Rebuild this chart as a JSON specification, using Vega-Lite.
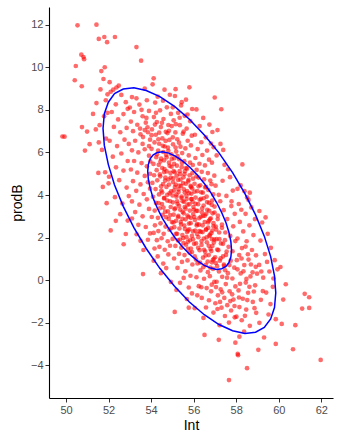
{
"$schema":"https://vega.github.io/schema/vega-lite/v6.json",
"autosize":{"type":"none"},
"padding":{"left":49,"top":7,"right":23,"bottom":40},
"width":284,"height":391,
"background":"white",
"config":{"view":{"stroke":null},
"axis":{"grid":false,"domainColor":"black","domainWidth":1.1,"tickColor":"#333333","tickSize":4,"tickWidth":1,"labelColor":"#4d4d4d","labelFont":"Liberation Sans","labelFontSize":11,"labelPadding":2,"titleFont":"Liberation Sans","titleFontSize":14,"titleFontWeight":"normal","titleColor":"black"}},
"datasets":{
"pts":[
{"Int":49.83,"prodB":6.75},{"Int":49.93,"prodB":6.74},{"Int":50.41,"prodB":9.39},{"Int":50.46,"prodB":10.06},{"Int":50.54,"prodB":11.97},{"Int":50.72,"prodB":10.59},{"Int":50.82,"prodB":10.48},{"Int":50.85,"prodB":10.38},{"Int":50.74,"prodB":9.11},{"Int":50.75,"prodB":7.19},{"Int":50.99,"prodB":6.98},{"Int":50.89,"prodB":6.09},
{"Int":51.43,"prodB":12.0},{"Int":51.54,"prodB":11.33},{"Int":51.8,"prodB":11.42},{"Int":51.93,"prodB":11.18},{"Int":51.82,"prodB":10.0},{"Int":51.66,"prodB":9.82},{"Int":51.76,"prodB":9.45},{"Int":51.95,"prodB":8.73},{"Int":51.43,"prodB":8.32},{"Int":51.87,"prodB":8.45},{"Int":51.95,"prodB":7.86},{"Int":51.79,"prodB":7.7},{"Int":51.58,"prodB":7.28},{"Int":51.4,"prodB":7.08},{"Int":51.11,"prodB":6.39},{"Int":51.54,"prodB":6.47},{"Int":51.52,"prodB":5.04},{"Int":51.84,"prodB":5.07},{"Int":51.69,"prodB":6.12},{"Int":51.88,"prodB":6.65},{"Int":51.27,"prodB":7.81},{"Int":51.73,"prodB":4.38},{"Int":51.91,"prodB":3.62},{"Int":51.62,"prodB":8.96},
{"Int":52.3,"prodB":11.42},{"Int":52.05,"prodB":9.3},{"Int":52.37,"prodB":9.05},{"Int":52.48,"prodB":9.14},{"Int":52.1,"prodB":8.85},{"Int":52.22,"prodB":8.95},{"Int":52.34,"prodB":8.26},{"Int":52.81,"prodB":8.36},{"Int":52.6,"prodB":8.7},{"Int":52.9,"prodB":8.05},{"Int":52.15,"prodB":7.9},{"Int":52.45,"prodB":7.55},{"Int":52.7,"prodB":7.8},{"Int":52.25,"prodB":7.2},{"Int":52.55,"prodB":6.95},{"Int":52.85,"prodB":7.15},{"Int":52.05,"prodB":6.55},{"Int":52.4,"prodB":6.3},{"Int":52.75,"prodB":6.6},{"Int":52.95,"prodB":6.4},{"Int":52.2,"prodB":5.8},{"Int":52.6,"prodB":5.95},{"Int":52.9,"prodB":5.6},{"Int":52.35,"prodB":5.3},{"Int":52.7,"prodB":5.15},{"Int":52.02,"prodB":4.86},{"Int":52.0,"prodB":4.55},{"Int":52.5,"prodB":4.7},{"Int":52.85,"prodB":4.35},{"Int":52.3,"prodB":3.9},{"Int":52.65,"prodB":3.6},{"Int":52.95,"prodB":3.95},{"Int":52.34,"prodB":2.79},{"Int":52.1,"prodB":2.34},{"Int":52.81,"prodB":2.17},{"Int":52.71,"prodB":1.69},{"Int":52.55,"prodB":3.1},{"Int":52.9,"prodB":2.8},
{"Int":53.31,"prodB":10.95},{"Int":53.53,"prodB":10.31},{"Int":53.7,"prodB":9.0},{"Int":53.31,"prodB":8.54},{"Int":53.0,"prodB":8.11},{"Int":53.1,"prodB":8.6},{"Int":53.45,"prodB":8.25},{"Int":53.8,"prodB":8.45},{"Int":53.2,"prodB":7.9},{"Int":53.6,"prodB":7.7},{"Int":53.9,"prodB":7.95},{"Int":53.05,"prodB":7.45},{"Int":53.35,"prodB":7.3},{"Int":53.75,"prodB":7.4},{"Int":53.15,"prodB":7.0},{"Int":53.5,"prodB":6.85},{"Int":53.85,"prodB":6.95},{"Int":53.25,"prodB":6.55},{"Int":53.6,"prodB":6.4},{"Int":53.95,"prodB":6.6},{"Int":53.1,"prodB":6.1},{"Int":53.4,"prodB":6.0},{"Int":53.7,"prodB":6.15},{"Int":53.9,"prodB":5.85},{"Int":53.2,"prodB":5.6},{"Int":53.55,"prodB":5.5},{"Int":53.8,"prodB":5.35},{"Int":53.05,"prodB":5.2},{"Int":53.35,"prodB":5.05},{"Int":53.7,"prodB":4.9},{"Int":53.95,"prodB":5.0},{"Int":53.15,"prodB":4.65},{"Int":53.5,"prodB":4.5},{"Int":53.85,"prodB":4.6},{"Int":53.3,"prodB":4.2},{"Int":53.65,"prodB":4.05},{"Int":53.95,"prodB":4.3},{"Int":53.1,"prodB":3.7},{"Int":53.45,"prodB":3.55},{"Int":53.8,"prodB":3.8},{"Int":53.25,"prodB":3.2},{"Int":53.6,"prodB":3.0},{"Int":53.9,"prodB":3.35},{"Int":53.4,"prodB":2.6},{"Int":53.75,"prodB":2.5},{"Int":53.32,"prodB":2.16},{"Int":53.64,"prodB":1.42},{"Int":53.62,"prodB":0.29},{"Int":53.85,"prodB":1.9},{"Int":53.95,"prodB":2.2},{"Int":53.5,"prodB":1.85},{"Int":53.1,"prodB":2.9},{"Int":53.7,"prodB":7.05},{"Int":53.55,"prodB":8.0},{"Int":53.9,"prodB":6.3},
{"Int":54.07,"prodB":9.2},{"Int":54.12,"prodB":9.48},{"Int":54.63,"prodB":8.95},{"Int":54.31,"prodB":8.62},{"Int":54.88,"prodB":8.71},{"Int":54.19,"prodB":8.34},{"Int":54.74,"prodB":8.12},{"Int":54.42,"prodB":7.98},{"Int":54.93,"prodB":7.81},{"Int":54.13,"prodB":7.66},{"Int":54.58,"prodB":7.57},{"Int":54.27,"prodB":7.43},{"Int":54.81,"prodB":7.29},{"Int":54.04,"prodB":7.08},{"Int":54.46,"prodB":7.19},{"Int":54.69,"prodB":6.97},{"Int":54.97,"prodB":7.24},{"Int":54.22,"prodB":6.83},{"Int":54.53,"prodB":6.66},{"Int":54.77,"prodB":6.91},{"Int":54.16,"prodB":6.47},{"Int":54.38,"prodB":6.41},{"Int":54.64,"prodB":6.28},{"Int":54.86,"prodB":6.59},{"Int":54.02,"prodB":6.17},{"Int":54.33,"prodB":6.09},{"Int":54.57,"prodB":6.02},{"Int":54.79,"prodB":6.23},{"Int":54.95,"prodB":5.91},{"Int":54.24,"prodB":5.78},{"Int":54.47,"prodB":5.71},{"Int":54.71,"prodB":5.88},{"Int":54.11,"prodB":5.46},{"Int":54.36,"prodB":5.42},{"Int":54.61,"prodB":5.63},{"Int":54.84,"prodB":5.52},{"Int":54.26,"prodB":5.17},{"Int":54.52,"prodB":5.27},{"Int":54.73,"prodB":5.11},{"Int":54.96,"prodB":5.33},{"Int":54.14,"prodB":4.93},{"Int":54.43,"prodB":4.88},{"Int":54.67,"prodB":4.82},{"Int":54.91,"prodB":5.04},{"Int":54.06,"prodB":4.57},{"Int":54.29,"prodB":4.69},{"Int":54.56,"prodB":4.52},{"Int":54.82,"prodB":4.73},{"Int":54.21,"prodB":4.28},{"Int":54.48,"prodB":4.21},{"Int":54.72,"prodB":4.38},{"Int":54.94,"prodB":4.17},{"Int":54.09,"prodB":3.92},{"Int":54.37,"prodB":4.03},{"Int":54.62,"prodB":3.87},{"Int":54.87,"prodB":4.08},{"Int":54.23,"prodB":3.63},{"Int":54.51,"prodB":3.58},{"Int":54.76,"prodB":3.74},{"Int":54.17,"prodB":3.27},{"Int":54.41,"prodB":3.38},{"Int":54.66,"prodB":3.22},{"Int":54.92,"prodB":3.44},{"Int":54.03,"prodB":2.97},{"Int":54.32,"prodB":2.93},{"Int":54.54,"prodB":3.07},{"Int":54.83,"prodB":2.88},{"Int":54.18,"prodB":2.58},{"Int":54.44,"prodB":2.67},{"Int":54.68,"prodB":2.52},{"Int":54.98,"prodB":2.73},{"Int":54.12,"prodB":2.22},{"Int":54.34,"prodB":2.31},{"Int":54.59,"prodB":2.18},{"Int":54.86,"prodB":2.37},{"Int":54.27,"prodB":1.88},{"Int":54.49,"prodB":1.97},{"Int":54.78,"prodB":1.83},{"Int":54.16,"prodB":1.49},{"Int":54.39,"prodB":1.57},{"Int":54.64,"prodB":1.43},{"Int":54.89,"prodB":1.62},{"Int":54.12,"prodB":0.92},{"Int":54.31,"prodB":1.12},{"Int":54.57,"prodB":0.78},{"Int":54.81,"prodB":1.21},{"Int":54.46,"prodB":0.33},{"Int":54.71,"prodB":0.57},{"Int":54.93,"prodB":-0.08},{"Int":54.61,"prodB":5.08},{"Int":54.38,"prodB":6.93},
{"Int":55.8,"prodB":9.06},{"Int":55.64,"prodB":8.48},{"Int":55.12,"prodB":8.65},{"Int":55.41,"prodB":8.21},{"Int":55.93,"prodB":8.04},{"Int":55.27,"prodB":7.86},{"Int":55.58,"prodB":7.72},{"Int":55.06,"prodB":7.51},{"Int":55.84,"prodB":7.47},{"Int":55.35,"prodB":7.28},{"Int":55.67,"prodB":7.12},{"Int":55.14,"prodB":6.94},{"Int":55.49,"prodB":6.88},{"Int":55.91,"prodB":6.79},{"Int":55.23,"prodB":6.62},{"Int":55.72,"prodB":6.55},{"Int":55.03,"prodB":6.38},{"Int":55.38,"prodB":6.27},{"Int":55.61,"prodB":6.19},{"Int":55.87,"prodB":6.33},{"Int":55.18,"prodB":6.04},{"Int":55.46,"prodB":5.97},{"Int":55.77,"prodB":5.86},{"Int":55.09,"prodB":5.73},{"Int":55.32,"prodB":5.68},{"Int":55.56,"prodB":5.59},{"Int":55.83,"prodB":5.52},{"Int":55.21,"prodB":5.38},{"Int":55.44,"prodB":5.31},{"Int":55.69,"prodB":5.24},{"Int":55.96,"prodB":5.41},{"Int":55.11,"prodB":5.07},{"Int":55.36,"prodB":4.98},{"Int":55.59,"prodB":5.12},{"Int":55.81,"prodB":4.93},{"Int":55.04,"prodB":4.79},{"Int":55.27,"prodB":4.71},{"Int":55.52,"prodB":4.83},{"Int":55.74,"prodB":4.64},{"Int":55.97,"prodB":4.77},{"Int":55.16,"prodB":4.49},{"Int":55.41,"prodB":4.42},{"Int":55.63,"prodB":4.53},{"Int":55.88,"prodB":4.38},{"Int":55.07,"prodB":4.21},{"Int":55.29,"prodB":4.14},{"Int":55.54,"prodB":4.27},{"Int":55.78,"prodB":4.09},{"Int":55.93,"prodB":4.31},{"Int":55.19,"prodB":3.92},{"Int":55.43,"prodB":3.86},{"Int":55.66,"prodB":3.97},{"Int":55.89,"prodB":3.81},{"Int":55.02,"prodB":3.66},{"Int":55.24,"prodB":3.59},{"Int":55.48,"prodB":3.71},{"Int":55.71,"prodB":3.55},{"Int":55.95,"prodB":3.68},{"Int":55.13,"prodB":3.38},{"Int":55.37,"prodB":3.31},{"Int":55.58,"prodB":3.44},{"Int":55.82,"prodB":3.27},{"Int":55.06,"prodB":3.08},{"Int":55.28,"prodB":3.02},{"Int":55.53,"prodB":3.14},{"Int":55.76,"prodB":2.97},{"Int":55.98,"prodB":3.11},{"Int":55.17,"prodB":2.79},{"Int":55.39,"prodB":2.73},{"Int":55.62,"prodB":2.86},{"Int":55.86,"prodB":2.68},{"Int":55.09,"prodB":2.49},{"Int":55.33,"prodB":2.43},{"Int":55.56,"prodB":2.57},{"Int":55.79,"prodB":2.39},{"Int":55.22,"prodB":2.18},{"Int":55.47,"prodB":2.12},{"Int":55.69,"prodB":2.26},{"Int":55.92,"prodB":2.08},{"Int":55.01,"prodB":1.94},{"Int":55.26,"prodB":1.87},{"Int":55.51,"prodB":1.98},{"Int":55.73,"prodB":1.81},{"Int":55.97,"prodB":1.92},{"Int":55.14,"prodB":1.61},{"Int":55.42,"prodB":1.53},{"Int":55.64,"prodB":1.67},{"Int":55.87,"prodB":1.49},{"Int":55.31,"prodB":1.24},{"Int":55.57,"prodB":1.18},{"Int":55.81,"prodB":1.29},{"Int":55.08,"prodB":1.02},{"Int":55.45,"prodB":0.86},{"Int":55.71,"prodB":0.93},{"Int":55.94,"prodB":0.74},{"Int":55.24,"prodB":0.58},{"Int":55.61,"prodB":0.42},{"Int":55.85,"prodB":0.21},{"Int":55.19,"prodB":-0.46},{"Int":55.36,"prodB":-0.12},{"Int":55.77,"prodB":-0.34},{"Int":55.53,"prodB":0.11},{"Int":55.11,"prodB":-1.49},{"Int":55.77,"prodB":-1.29},{"Int":55.68,"prodB":-0.88},{"Int":55.92,"prodB":-0.62},{"Int":55.34,"prodB":7.63},{"Int":55.15,"prodB":8.97},
{"Int":56.99,"prodB":8.58},{"Int":56.13,"prodB":8.02},{"Int":56.74,"prodB":7.31},{"Int":56.45,"prodB":7.62},{"Int":56.28,"prodB":7.24},{"Int":56.88,"prodB":6.96},{"Int":56.06,"prodB":6.83},{"Int":56.57,"prodB":6.71},{"Int":56.36,"prodB":6.48},{"Int":56.81,"prodB":6.42},{"Int":56.19,"prodB":6.16},{"Int":56.63,"prodB":6.09},{"Int":56.94,"prodB":6.25},{"Int":56.41,"prodB":5.88},{"Int":56.08,"prodB":5.74},{"Int":56.72,"prodB":5.66},{"Int":56.27,"prodB":5.47},{"Int":56.53,"prodB":5.39},{"Int":56.86,"prodB":5.52},{"Int":56.14,"prodB":5.18},{"Int":56.38,"prodB":5.09},{"Int":56.67,"prodB":5.03},{"Int":56.97,"prodB":4.91},{"Int":56.23,"prodB":4.82},{"Int":56.49,"prodB":4.74},{"Int":56.78,"prodB":4.68},{"Int":56.04,"prodB":4.53},{"Int":56.31,"prodB":4.46},{"Int":56.58,"prodB":4.39},{"Int":56.84,"prodB":4.51},{"Int":56.17,"prodB":4.18},{"Int":56.43,"prodB":4.11},{"Int":56.69,"prodB":4.24},{"Int":56.92,"prodB":4.03},{"Int":56.09,"prodB":3.88},{"Int":56.34,"prodB":3.82},{"Int":56.61,"prodB":3.93},{"Int":56.87,"prodB":3.74},{"Int":56.21,"prodB":3.57},{"Int":56.47,"prodB":3.51},{"Int":56.73,"prodB":3.63},{"Int":56.98,"prodB":3.46},{"Int":56.12,"prodB":3.26},{"Int":56.39,"prodB":3.19},{"Int":56.64,"prodB":3.31},{"Int":56.89,"prodB":3.14},{"Int":56.03,"prodB":2.97},{"Int":56.26,"prodB":2.91},{"Int":56.52,"prodB":3.03},{"Int":56.77,"prodB":2.86},{"Int":56.16,"prodB":2.64},{"Int":56.42,"prodB":2.58},{"Int":56.68,"prodB":2.71},{"Int":56.93,"prodB":2.53},{"Int":56.07,"prodB":2.33},{"Int":56.33,"prodB":2.27},{"Int":56.59,"prodB":2.39},{"Int":56.83,"prodB":2.21},{"Int":56.22,"prodB":2.02},{"Int":56.48,"prodB":1.96},{"Int":56.74,"prodB":2.08},{"Int":56.97,"prodB":1.91},{"Int":56.11,"prodB":1.73},{"Int":56.37,"prodB":1.66},{"Int":56.62,"prodB":1.78},{"Int":56.88,"prodB":1.61},{"Int":56.28,"prodB":1.41},{"Int":56.54,"prodB":1.34},{"Int":56.79,"prodB":1.47},{"Int":56.05,"prodB":1.12},{"Int":56.44,"prodB":1.06},{"Int":56.71,"prodB":1.18},{"Int":56.95,"prodB":1.01},{"Int":56.18,"prodB":0.79},{"Int":56.57,"prodB":0.72},{"Int":56.86,"prodB":0.84},{"Int":56.32,"prodB":0.46},{"Int":56.67,"prodB":0.38},{"Int":56.91,"prodB":0.53},{"Int":56.13,"prodB":0.14},{"Int":56.49,"prodB":0.07},{"Int":56.76,"prodB":0.19},{"Int":56.24,"prodB":-0.28},{"Int":56.61,"prodB":-0.37},{"Int":56.85,"prodB":-0.21},{"Int":56.05,"prodB":-1.31},{"Int":56.46,"prodB":-1.77},{"Int":56.38,"prodB":-0.83},{"Int":56.72,"prodB":-0.94},{"Int":56.51,"prodB":-2.57},{"Int":56.93,"prodB":-1.52},{"Int":56.17,"prodB":-0.71},{"Int":56.58,"prodB":-1.28},
{"Int":57.3,"prodB":8.03},{"Int":57.26,"prodB":6.4},{"Int":57.12,"prodB":7.05},{"Int":57.71,"prodB":4.84},{"Int":57.18,"prodB":4.01},{"Int":57.45,"prodB":5.42},{"Int":57.08,"prodB":5.86},{"Int":57.62,"prodB":5.21},{"Int":57.36,"prodB":4.67},{"Int":57.84,"prodB":4.21},{"Int":57.03,"prodB":4.44},{"Int":57.54,"prodB":3.96},{"Int":57.25,"prodB":3.71},{"Int":57.77,"prodB":3.48},{"Int":57.41,"prodB":3.29},{"Int":57.93,"prodB":3.12},{"Int":57.14,"prodB":3.04},{"Int":57.58,"prodB":2.87},{"Int":57.33,"prodB":2.61},{"Int":57.86,"prodB":2.53},{"Int":57.06,"prodB":2.38},{"Int":57.49,"prodB":2.24},{"Int":57.72,"prodB":2.08},{"Int":57.21,"prodB":1.93},{"Int":57.96,"prodB":1.84},{"Int":57.38,"prodB":1.71},{"Int":57.64,"prodB":1.57},{"Int":57.11,"prodB":1.44},{"Int":57.83,"prodB":1.36},{"Int":57.52,"prodB":1.19},{"Int":57.27,"prodB":1.03},{"Int":57.74,"prodB":0.92},{"Int":57.04,"prodB":0.81},{"Int":57.43,"prodB":0.68},{"Int":57.91,"prodB":0.59},{"Int":57.19,"prodB":0.41},{"Int":57.61,"prodB":0.33},{"Int":57.34,"prodB":0.16},{"Int":57.82,"prodB":0.08},{"Int":57.08,"prodB":-0.07},{"Int":57.51,"prodB":-0.18},{"Int":57.96,"prodB":-0.29},{"Int":57.27,"prodB":-0.43},{"Int":57.69,"prodB":-0.52},{"Int":57.14,"prodB":-0.71},{"Int":57.44,"prodB":-0.83},{"Int":57.87,"prodB":-0.91},{"Int":57.02,"prodB":-1.08},{"Int":57.58,"prodB":-1.17},{"Int":57.31,"prodB":-1.29},{"Int":57.12,"prodB":-1.35},{"Int":57.76,"prodB":-1.42},{"Int":57.66,"prodB":-1.99},{"Int":57.47,"prodB":-1.68},{"Int":57.93,"prodB":-1.74},{"Int":57.22,"prodB":-2.11},{"Int":57.18,"prodB":-2.8},{"Int":57.96,"prodB":-2.93},{"Int":57.66,"prodB":-4.69},{"Int":57.39,"prodB":6.12},{"Int":57.78,"prodB":3.7},
{"Int":58.29,"prodB":5.44},{"Int":58.06,"prodB":4.29},{"Int":58.21,"prodB":4.45},{"Int":58.39,"prodB":4.18},{"Int":58.64,"prodB":4.11},{"Int":58.51,"prodB":3.89},{"Int":58.58,"prodB":3.77},{"Int":58.12,"prodB":3.58},{"Int":58.24,"prodB":3.31},{"Int":58.71,"prodB":3.42},{"Int":58.44,"prodB":3.12},{"Int":58.88,"prodB":2.87},{"Int":58.17,"prodB":2.74},{"Int":58.62,"prodB":2.58},{"Int":58.33,"prodB":2.29},{"Int":58.81,"prodB":2.12},{"Int":58.06,"prodB":1.96},{"Int":58.49,"prodB":1.83},{"Int":58.27,"prodB":1.51},{"Int":58.74,"prodB":1.42},{"Int":58.14,"prodB":1.18},{"Int":58.58,"prodB":0.97},{"Int":58.38,"prodB":0.71},{"Int":58.92,"prodB":0.63},{"Int":58.06,"prodB":0.51},{"Int":58.21,"prodB":0.32},{"Int":58.67,"prodB":0.18},{"Int":58.45,"prodB":-0.11},{"Int":58.89,"prodB":-0.24},{"Int":58.11,"prodB":-0.48},{"Int":58.56,"prodB":-0.59},{"Int":58.31,"prodB":-0.87},{"Int":58.78,"prodB":-1.02},{"Int":58.15,"prodB":-1.26},{"Int":58.47,"prodB":-1.38},{"Int":58.94,"prodB":-1.53},{"Int":58.64,"prodB":-2.14},{"Int":58.26,"prodB":-1.88},{"Int":58.15,"prodB":-2.65},{"Int":58.51,"prodB":-4.13},{"Int":58.07,"prodB":-3.46},{"Int":58.09,"prodB":-3.52},{"Int":58.37,"prodB":-2.41},{"Int":58.83,"prodB":-0.53},{"Int":58.55,"prodB":1.22},{"Int":58.98,"prodB":0.31},
{"Int":59.09,"prodB":3.25},{"Int":59.22,"prodB":2.71},{"Int":59.48,"prodB":2.18},{"Int":59.14,"prodB":1.86},{"Int":59.63,"prodB":1.52},{"Int":59.35,"prodB":1.23},{"Int":59.81,"prodB":0.94},{"Int":59.08,"prodB":0.72},{"Int":59.56,"prodB":0.41},{"Int":59.94,"prodB":0.51},{"Int":59.27,"prodB":0.12},{"Int":59.72,"prodB":-0.31},{"Int":59.41,"prodB":-0.58},{"Int":59.16,"prodB":-0.92},{"Int":59.61,"prodB":-1.12},{"Int":59.86,"prodB":-1.83},{"Int":59.09,"prodB":-2.0},{"Int":59.31,"prodB":-2.69},{"Int":59.04,"prodB":-3.27},{"Int":59.86,"prodB":-2.99},{"Int":59.52,"prodB":-1.61},{"Int":59.38,"prodB":2.95},{"Int":59.75,"prodB":0.08},
{"Int":60.33,"prodB":-0.19},{"Int":61.22,"prodB":-0.64},{"Int":61.43,"prodB":-0.8},{"Int":61.1,"prodB":-1.33},{"Int":61.43,"prodB":-1.3},{"Int":60.78,"prodB":-2.11},{"Int":60.14,"prodB":-2.05},{"Int":61.97,"prodB":-3.74},{"Int":60.67,"prodB":-3.24},{"Int":60.08,"prodB":0.62},{"Int":60.21,"prodB":-0.91},
{"Int":54.28,"prodB":5.91},{"Int":54.35,"prodB":3.62},{"Int":54.41,"prodB":4.97},{"Int":54.44,"prodB":5.58},{"Int":54.52,"prodB":4.12},{"Int":54.55,"prodB":6.31},{"Int":54.58,"prodB":3.41},{"Int":54.63,"prodB":5.22},{"Int":54.66,"prodB":4.68},{"Int":54.7,"prodB":2.96},{"Int":54.73,"prodB":5.77},{"Int":54.76,"prodB":4.01},{"Int":54.79,"prodB":3.23},{"Int":54.81,"prodB":6.08},{"Int":54.84,"prodB":4.49},{"Int":54.87,"prodB":5.37},{"Int":54.9,"prodB":3.06},{"Int":54.92,"prodB":4.82},{"Int":54.95,"prodB":2.44},{"Int":54.97,"prodB":5.69},{"Int":55.01,"prodB":3.98},{"Int":55.03,"prodB":4.61},{"Int":55.05,"prodB":2.71},{"Int":55.08,"prodB":5.46},{"Int":55.1,"prodB":3.33},{"Int":55.12,"prodB":4.38},{"Int":55.15,"prodB":6.23},{"Int":55.17,"prodB":2.18},{"Int":55.2,"prodB":4.91},{"Int":55.22,"prodB":3.71},{"Int":55.24,"prodB":5.83},{"Int":55.27,"prodB":2.96},{"Int":55.29,"prodB":4.27},{"Int":55.31,"prodB":3.49},{"Int":55.34,"prodB":5.12},{"Int":55.36,"prodB":1.91},{"Int":55.38,"prodB":4.73},{"Int":55.41,"prodB":2.62},{"Int":55.43,"prodB":3.93},{"Int":55.45,"prodB":5.51},{"Int":55.48,"prodB":3.21},{"Int":55.5,"prodB":4.56},{"Int":55.52,"prodB":1.74},{"Int":55.55,"prodB":3.68},{"Int":55.57,"prodB":4.98},{"Int":55.59,"prodB":2.41},{"Int":55.62,"prodB":3.36},{"Int":55.64,"prodB":5.27},{"Int":55.66,"prodB":2.02},{"Int":55.69,"prodB":4.19},{"Int":55.71,"prodB":3.04},{"Int":55.73,"prodB":1.47},{"Int":55.76,"prodB":4.71},{"Int":55.78,"prodB":2.66},{"Int":55.8,"prodB":3.57},{"Int":55.83,"prodB":1.88},{"Int":55.85,"prodB":4.43},{"Int":55.87,"prodB":2.93},{"Int":55.9,"prodB":3.81},{"Int":55.92,"prodB":1.32},{"Int":55.94,"prodB":5.03},{"Int":55.97,"prodB":2.29},{"Int":55.99,"prodB":3.44},{"Int":56.02,"prodB":1.71},{"Int":56.04,"prodB":4.16},{"Int":56.06,"prodB":2.83},{"Int":56.09,"prodB":3.59},{"Int":56.11,"prodB":0.97},{"Int":56.13,"prodB":4.88},{"Int":56.16,"prodB":2.17},{"Int":56.18,"prodB":3.26},{"Int":56.21,"prodB":1.52},{"Int":56.23,"prodB":4.41},{"Int":56.25,"prodB":2.61},{"Int":56.28,"prodB":3.78},{"Int":56.3,"prodB":0.83},{"Int":56.33,"prodB":2.98},{"Int":56.35,"prodB":4.13},{"Int":56.37,"prodB":1.84},{"Int":56.4,"prodB":3.37},{"Int":56.42,"prodB":2.26},{"Int":56.45,"prodB":0.61},{"Int":56.47,"prodB":3.85},{"Int":56.49,"prodB":1.43},{"Int":56.52,"prodB":2.73},{"Int":56.54,"prodB":4.36},{"Int":56.56,"prodB":1.16},{"Int":56.59,"prodB":3.12},{"Int":56.61,"prodB":2.01},{"Int":56.63,"prodB":3.67},{"Int":56.66,"prodB":0.88},{"Int":56.68,"prodB":2.47},{"Int":56.71,"prodB":1.62},{"Int":56.73,"prodB":3.26},{"Int":56.76,"prodB":2.14},{"Int":56.78,"prodB":0.59},{"Int":56.8,"prodB":2.91},{"Int":56.83,"prodB":1.37},{"Int":56.85,"prodB":3.54},{"Int":56.88,"prodB":2.33},{"Int":56.9,"prodB":0.94},{"Int":56.93,"prodB":2.68},{"Int":56.95,"prodB":1.77},{"Int":56.98,"prodB":3.18},{"Int":57.01,"prodB":1.08},{"Int":57.04,"prodB":2.52},{"Int":57.07,"prodB":1.93},{"Int":57.1,"prodB":0.66},{"Int":57.13,"prodB":2.87},{"Int":57.16,"prodB":1.41},{"Int":57.2,"prodB":2.24},{"Int":57.23,"prodB":0.92},{"Int":57.28,"prodB":1.73},{"Int":57.33,"prodB":2.46},{"Int":57.38,"prodB":1.12},{"Int":57.42,"prodB":0.73},{"Int":57.47,"prodB":1.88},{"Int":57.55,"prodB":1.35},{"Int":54.47,"prodB":4.41},{"Int":54.61,"prodB":3.84},{"Int":54.89,"prodB":3.71},{"Int":55.06,"prodB":5.12},{"Int":55.19,"prodB":4.02},{"Int":55.33,"prodB":4.44},{"Int":55.47,"prodB":2.88},{"Int":55.58,"prodB":4.12},{"Int":55.67,"prodB":3.81},{"Int":55.74,"prodB":2.33},{"Int":55.89,"prodB":4.06},{"Int":56.01,"prodB":3.31},{"Int":56.14,"prodB":2.57},{"Int":56.27,"prodB":2.31},{"Int":56.44,"prodB":3.02},{"Int":56.58,"prodB":2.37},{"Int":56.71,"prodB":2.79},{"Int":56.86,"prodB":1.93},
{"Int":57.57,"prodB":0.12},{"Int":57.81,"prodB":-0.66},{"Int":58.03,"prodB":0.94},{"Int":58.18,"prodB":-0.17},{"Int":58.34,"prodB":0.42},{"Int":58.52,"prodB":-0.93},{"Int":58.69,"prodB":0.74},{"Int":58.86,"prodB":-1.31},{"Int":58.41,"prodB":-1.67},{"Int":57.92,"prodB":-1.21},{"Int":58.13,"prodB":-0.81},{"Int":58.62,"prodB":-0.31},{"Int":58.77,"prodB":0.37},{"Int":57.68,"prodB":0.71},{"Int":57.34,"prodB":-0.57},{"Int":57.05,"prodB":-0.32},{"Int":58.25,"prodB":1.02},{"Int":58.44,"prodB":1.58},{"Int":58.93,"prodB":1.17},{"Int":59.18,"prodB":0.41},{"Int":59.25,"prodB":-0.51},{"Int":59.45,"prodB":0.86},{"Int":57.72,"prodB":-0.98},{"Int":57.48,"prodB":0.47},{"Int":58.01,"prodB":-1.71},{"Int":58.48,"prodB":0.06},{"Int":57.24,"prodB":-1.02},{"Int":56.82,"prodB":-0.52},{"Int":56.97,"prodB":-0.08},{"Int":56.36,"prodB":-0.33},
{"Int":53.62,"prodB":6.72},{"Int":53.83,"prodB":7.18},{"Int":54.02,"prodB":6.81},{"Int":54.18,"prodB":7.31},{"Int":54.34,"prodB":6.62},{"Int":54.51,"prodB":7.39},{"Int":54.68,"prodB":6.54},{"Int":54.84,"prodB":7.02},{"Int":55.02,"prodB":6.71},{"Int":55.16,"prodB":7.33},{"Int":55.31,"prodB":6.46},{"Int":55.53,"prodB":6.98},{"Int":55.71,"prodB":7.78},{"Int":55.44,"prodB":8.36},{"Int":55.02,"prodB":8.12},{"Int":54.56,"prodB":8.43},{"Int":54.23,"prodB":7.86},{"Int":53.78,"prodB":7.62},{"Int":53.48,"prodB":7.12},{"Int":53.96,"prodB":5.58}
],
"ell":[
{"level":"outer","i":0,"Int":59.86,"prodB":-0.59},{"level":"outer","i":1,"Int":59.8,"prodB":-1.28},{"level":"outer","i":2,"Int":59.62,"prodB":-1.82},{"level":"outer","i":3,"Int":59.32,"prodB":-2.22},{"level":"outer","i":4,"Int":58.91,"prodB":-2.44},{"level":"outer","i":5,"Int":58.41,"prodB":-2.5},{"level":"outer","i":6,"Int":57.83,"prodB":-2.37},{"level":"outer","i":7,"Int":57.19,"prodB":-2.08},{"level":"outer","i":8,"Int":56.5,"prodB":-1.62},{"level":"outer","i":9,"Int":55.8,"prodB":-1.02},{"level":"outer","i":10,"Int":55.1,"prodB":-0.28},{"level":"outer","i":11,"Int":54.41,"prodB":0.56},{"level":"outer","i":12,"Int":53.77,"prodB":1.49},{"level":"outer","i":13,"Int":53.19,"prodB":2.47},{"level":"outer","i":14,"Int":52.69,"prodB":3.47},{"level":"outer","i":15,"Int":52.28,"prodB":4.47},{"level":"outer","i":16,"Int":51.99,"prodB":5.43},{"level":"outer","i":17,"Int":51.8,"prodB":6.33},{"level":"outer","i":18,"Int":51.74,"prodB":7.13},{"level":"outer","i":19,"Int":51.8,"prodB":7.82},{"level":"outer","i":20,"Int":51.99,"prodB":8.36},{"level":"outer","i":21,"Int":52.28,"prodB":8.76},{"level":"outer","i":22,"Int":52.69,"prodB":8.98},{"level":"outer","i":23,"Int":53.19,"prodB":9.04},{"level":"outer","i":24,"Int":53.77,"prodB":8.91},{"level":"outer","i":25,"Int":54.41,"prodB":8.62},{"level":"outer","i":26,"Int":55.1,"prodB":8.16},{"level":"outer","i":27,"Int":55.8,"prodB":7.56},{"level":"outer","i":28,"Int":56.5,"prodB":6.82},{"level":"outer","i":29,"Int":57.19,"prodB":5.98},{"level":"outer","i":30,"Int":57.83,"prodB":5.05},{"level":"outer","i":31,"Int":58.41,"prodB":4.07},{"level":"outer","i":32,"Int":58.91,"prodB":3.07},{"level":"outer","i":33,"Int":59.32,"prodB":2.07},{"level":"outer","i":34,"Int":59.62,"prodB":1.11},{"level":"outer","i":35,"Int":59.8,"prodB":0.21},{"level":"outer","i":36,"Int":59.86,"prodB":-0.59},
{"level":"inner","i":0,"Int":57.78,"prodB":1.42},{"level":"inner","i":1,"Int":57.75,"prodB":1.1},{"level":"inner","i":2,"Int":57.66,"prodB":0.83},{"level":"inner","i":3,"Int":57.52,"prodB":0.65},{"level":"inner","i":4,"Int":57.32,"prodB":0.54},{"level":"inner","i":5,"Int":57.08,"prodB":0.51},{"level":"inner","i":6,"Int":56.8,"prodB":0.57},{"level":"inner","i":7,"Int":56.48,"prodB":0.71},{"level":"inner","i":8,"Int":56.15,"prodB":0.93},{"level":"inner","i":9,"Int":55.81,"prodB":1.22},{"level":"inner","i":10,"Int":55.47,"prodB":1.57},{"level":"inner","i":11,"Int":55.14,"prodB":1.97},{"level":"inner","i":12,"Int":54.83,"prodB":2.42},{"level":"inner","i":13,"Int":54.54,"prodB":2.89},{"level":"inner","i":14,"Int":54.3,"prodB":3.37},{"level":"inner","i":15,"Int":54.1,"prodB":3.84},{"level":"inner","i":16,"Int":53.96,"prodB":4.3},{"level":"inner","i":17,"Int":53.87,"prodB":4.73},{"level":"inner","i":18,"Int":53.84,"prodB":5.12},{"level":"inner","i":19,"Int":53.87,"prodB":5.44},{"level":"inner","i":20,"Int":53.96,"prodB":5.71},{"level":"inner","i":21,"Int":54.1,"prodB":5.89},{"level":"inner","i":22,"Int":54.3,"prodB":6.0},{"level":"inner","i":23,"Int":54.54,"prodB":6.03},{"level":"inner","i":24,"Int":54.83,"prodB":5.97},{"level":"inner","i":25,"Int":55.14,"prodB":5.83},{"level":"inner","i":26,"Int":55.47,"prodB":5.61},{"level":"inner","i":27,"Int":55.81,"prodB":5.32},{"level":"inner","i":28,"Int":56.15,"prodB":4.97},{"level":"inner","i":29,"Int":56.48,"prodB":4.57},{"level":"inner","i":30,"Int":56.8,"prodB":4.12},{"level":"inner","i":31,"Int":57.08,"prodB":3.65},{"level":"inner","i":32,"Int":57.32,"prodB":3.17},{"level":"inner","i":33,"Int":57.52,"prodB":2.7},{"level":"inner","i":34,"Int":57.66,"prodB":2.24},{"level":"inner","i":35,"Int":57.75,"prodB":1.81},{"level":"inner","i":36,"Int":57.78,"prodB":1.42}
]
},
"layer":[
{"data":{"name":"pts"},
"mark":{"type":"point","filled":true,"color":"#ff0000","opacity":0.58,"size":22},
"encoding":{
"x":{"field":"Int","type":"quantitative","title":"Int","scale":{"domain":[49.2,62.55],"nice":false,"zero":false},"axis":{"values":[50,52,54,56,58,60,62],"titlePadding":3}},
"y":{"field":"prodB","type":"quantitative","title":"prodB","scale":{"domain":[-5.53,12.83],"nice":false,"zero":false},"axis":{"values":[-4,-2,0,2,4,6,8,10,12],"titlePadding":6}}}},
{"data":{"name":"ell"},
"mark":{"type":"line","color":"#0000ff","strokeWidth":1.5,"interpolate":"linear"},
"encoding":{
"x":{"field":"Int","type":"quantitative"},
"y":{"field":"prodB","type":"quantitative"},
"detail":{"field":"level"},
"order":{"field":"i","type":"quantitative"}}}
]
}
